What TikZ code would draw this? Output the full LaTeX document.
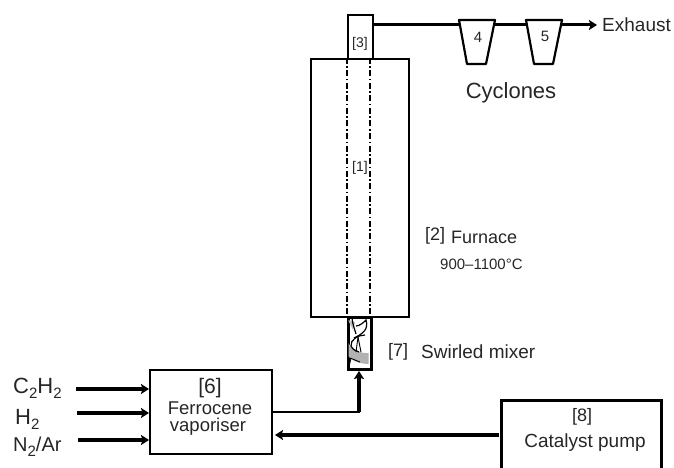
\documentclass[tikz,border=0pt]{standalone}
\usepackage{fontspec}
\setmainfont{Liberation Sans}
\usetikzlibrary{arrows.meta}
\newcommand{\fs}[1]{\fontsize{#1}{#1}\selectfont}
\newcommand{\subt}[1]{\raisebox{-5pt}{\fontsize{15}{15}\selectfont #1}}
\tikzset{
  x=1pt,y=-1pt,
  unit/.style={draw=black,line width=2.2pt,fill=white,inner sep=0pt,anchor=north west},
  tip/.style={-{Stealth[length=8pt,width=10pt,inset=1.5pt]}},
  flow/.style={line width=3.2pt,tip},
  pipe/.style={line width=3pt},
  axis/.style={line width=1.8pt,dash pattern=on 6pt off 2.5pt on 1.5pt off 2.5pt},
  cyclone/.style={line width=2.2pt,fill=white,line join=round},
  lab/.style={inner sep=0pt,text=black!85,align=center},
}
\begin{document}
\begin{tikzpicture}
\useasboundingbox (0,0) rectangle (674,468);
\begin{scope}
\clip (0,0) rectangle (674,468);
\node[unit,line width=3.2pt,minimum width=160pt,minimum height=80pt] (pump) at (500,399) {};
\end{scope}
\coordinate (pumpL) at (499,435);
\coordinate (exh) at (597,25);
\coordinate (bend) at (359,412);
\node[unit,minimum width=25pt,minimum height=44pt] (top) at (347,14) {};
\node[unit,minimum width=98pt,minimum height=258pt] (furn) at (310,58) {};
\node[unit,line width=3pt,minimum width=23pt,minimum height=52pt] (mix) at (347,316) {};
\node[unit,minimum width=122pt,minimum height=84pt] (vap) at (149,369) {};
\draw[pipe,tip] (top.east |- exh) -- (exh);
% cyclones
\draw[cyclone] (459,20) -- (495,20) -- (486,64) -- (467,64) -- cycle;
\draw[cyclone] (526,20) -- (562,20) -- (553,64) -- (534,64) -- cycle;
\node[lab] (n4) at (478,37) {\fs{15}4};
\node[lab] (n5) at (545,36) {\fs{15}5};
% reactor axis
\draw[axis] (347,58) -- (347,316);
\draw[axis] (370,58) -- (370,316);
% mixer
\begin{scope}
\clip (348.5,317.5) rectangle (368.5,366.5);
\fill[black!30] (346,338) .. controls (350,350) and (360,354) .. (371,353) -- (371,364) .. controls (358,364) and (350,361) .. (346,352) -- cycle;
\fill[black!25] (348,320) -- (353,330) -- (355,322) -- cycle;
\draw[line width=1.2pt] (352,318) .. controls (353,326) and (355,330) .. (356,334);
\draw[line width=1.2pt] (356,326) .. controls (360,326) and (364,322) .. (366,320) .. controls (369,330) and (362,334) .. (354,338);
\draw[line width=1.2pt] (351,346) .. controls (350,340) and (358,335) .. (365,335);
\draw[line width=1.2pt] (351,346) .. controls (353,350) and (356,351) .. (359,352);
\draw[line width=.9pt] (358,337) -- (356,352);
\draw[line width=.9pt] (358,337) -- (361,352);
\draw[line width=.9pt] (351,358) -- (349,367);
\draw[line width=.9pt] (350,358) -- (360,362);
\end{scope}
% flows
\coordinate (c2s) at (76,389);
\coordinate (h2s) at (77,413);
\coordinate (n2s) at (78,440);
\draw[flow] (c2s) -- (c2s -| vap.west);
\draw[flow] (h2s) -- (h2s -| vap.west);
\draw[flow] (n2s) -- (n2s -| vap.west);
\draw[flow] (bend) -- (bend |- mix.south);
\draw[line width=2.2pt,line cap=rect] (vap.east |- bend) -- (bend);
\draw[flow] (pumpL) -- (275,435);
% labels
\node[lab] (txt3) at (360,44) {\fs{14}[3]};
\node[lab] (txt1) at (360,168) {\fs{14}[1]};
\node[lab,anchor=west] (txt2) at (425,236) {\fs{18}[2]};
\node[lab,anchor=west] (txtF) at (451,237) {\fs{18}Furnace};
\node[lab,anchor=west] (txtT) at (440,264) {\fs{15}900–1100°C};
\node[lab,anchor=west] (txt7) at (388,352) {\fs{18}[7]};
\node[lab,anchor=west] (txtS) at (421,352) {\fs{19}Swirled mixer};
\node[lab] (txtCy) at (511,93) {\fs{22}Cyclones};
\node[lab,anchor=west] (txtE) at (602,25) {\fs{19}Exhaust};
\node[lab,anchor=west] (c2) at (13,388) {\fs{22}C\subt{2}H\subt{2}};
\node[lab,anchor=west] (h2) at (15,419) {\fs{22}H\subt{2}};
\node[lab,anchor=west] (n2) at (13,447) {\fs{20}N\subt{2}/Ar};
\node[lab] (v6) at (210,388) {\fs{21}[6]};
\node[lab] (v1) at (210,408) {\fs{18.5}Ferrocene};
\node[lab] (v2) at (208,427) {\fs{18.5}vaporiser};
\node[lab] (p8) at (582,417) {\fs{18}[8]};
\node[lab] (p) at (585,443) {\fs{19}Catalyst pump};
\end{tikzpicture}
\end{document}
